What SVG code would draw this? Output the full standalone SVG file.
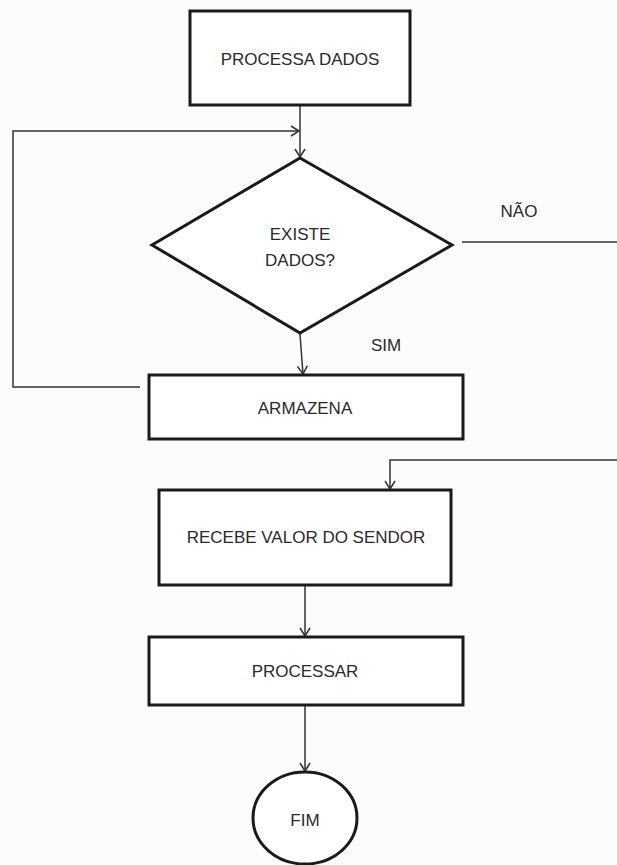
<svg xmlns="http://www.w3.org/2000/svg" width="617" height="865" viewBox="0 0 617 865">
<style>
.box{fill:#fff;stroke:#1a1a1a;stroke-width:3}
.t{font-family:"Liberation Sans",Arial,sans-serif;font-size:17px;fill:#2a2a2a;text-anchor:middle;dominant-baseline:central}
.c{fill:none;stroke:#333;stroke-width:1.5}
</style>
<defs>
<marker id="a" markerWidth="12" markerHeight="12" refX="10" refY="6" orient="auto" markerUnits="userSpaceOnUse">
<path d="M2,1 L10,6 L2,11" fill="none" stroke="#333" stroke-width="1.5"/>
</marker>
</defs>
<rect width="617" height="865" fill="#fcfcfc"/>
<g id="connectors">
<path class="c" d="M300,106 V157" marker-end="url(#a)"/>
<path class="c" d="M140,387 H13 V131 H299" marker-end="url(#a)"/>
<path class="c" d="M300,334 L303,374" marker-end="url(#a)"/>
<path class="c" d="M462,242 H622 V460 H390 V489" marker-end="url(#a)"/>
<path class="c" d="M305,586 V636" marker-end="url(#a)"/>
<path class="c" d="M305,706 V771" marker-end="url(#a)"/>
</g>
<g id="processa">
<rect class="box" x="190" y="11" width="220" height="94"/>
<text class="t" x="300" y="59">PROCESSA DADOS</text>
</g>
<g id="existe">
<polygon class="box" points="300,158 452,245 300,333 152,245"/>
<text class="t" x="300" y="234">EXISTE</text>
<text class="t" x="300" y="260">DADOS?</text>
</g>
<g id="nao-label"><text class="t" x="519" y="211">NÃO</text></g>
<g id="sim-label"><text class="t" x="386" y="345">SIM</text></g>
<g id="armazena">
<rect class="box" x="149" y="375" width="314" height="64"/>
<text class="t" x="305" y="408">ARMAZENA</text>
</g>
<g id="recebe">
<rect class="box" x="159" y="490" width="292" height="95"/>
<text class="t" x="306" y="537">RECEBE VALOR DO SENDOR</text>
</g>
<g id="processar">
<rect class="box" x="149" y="637" width="314" height="68"/>
<text class="t" x="305" y="671">PROCESSAR</text>
</g>
<g id="fim">
<ellipse class="box" cx="305" cy="818" rx="52" ry="46"/>
<text class="t" x="305" y="820">FIM</text>
</g>
</svg>
